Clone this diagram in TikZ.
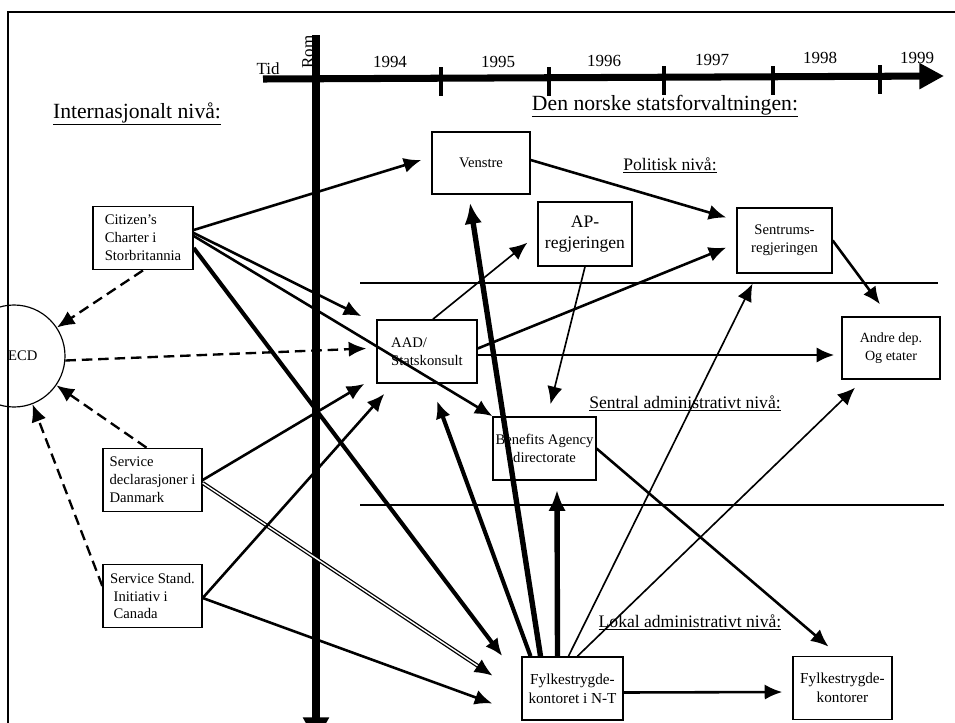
\documentclass[tikz,border=0pt]{standalone}
\usepackage{fontspec}
\setmainfont{Liberation Serif}
\usetikzlibrary{shapes.geometric, arrows.meta, calc}
\tikzstyle{box} = [rectangle, draw, line width=1.2pt, minimum width=3cm, minimum height=1.9cm, inner sep=2pt, align=center, font=\fontsize{12.5}{15.3}\selectfont]
\tikzstyle{leftbox} = [box, align=left]
\tikzstyle{heading} = [font=\fontsize{18.5}{22}\selectfont]
\tikzstyle{level} = [font=\fontsize{15}{18}\selectfont]
\tikzstyle{year} = [font=\fontsize{14.5}{17}\selectfont]
\tikzstyle{axis} = [line width=6pt, -{Triangle[length=21pt,width=21pt]}]
\tikzstyle{tick} = [line width=2.8pt]
\tikzstyle{sep} = [line width=2pt]
\tikzstyle{arrow} = [line width=2.2pt, -{Latex[length=15pt,width=13pt]}]
\tikzstyle{thinarrow} = [arrow, line width=1.4pt]
\tikzstyle{thickarrow} = [arrow, line width=3.5pt]
\tikzstyle{heavyarrow} = [line width=4.6pt, -{Latex[length=18pt,width=15pt]}]
\tikzstyle{dasharrow} = [arrow, line width=2pt, dash pattern=on 9pt off 5pt]
\begin{document}
\begin{tikzpicture}[x=0.03cm, y=-0.03cm]
            \useasboundingbox (0,0) rectangle (955,722);
            \draw [line width=2.5pt] (8,740) -- (8,12) -- (965,12);
            % time and space axes
            \draw [axis] (263,79) -- (944,76);
            \draw [axis] (316,35) -- (316,742);
            \draw [tick] (441,67) -- (441,96);
            \draw [tick] (549,67) -- (549,96);
            \draw [tick] (664,66) -- (664,95);
            \draw [tick] (773,66) -- (773,95);
            \draw [tick] (880,65) -- (880,94);
            \node [year] at (268,69) (tid) {Tid};
            \node [year, rotate=90] at (308,52) (rom) {Rom};
            \node [year] at (390,62) (y1994) {1994};
            \node [year] at (498,62) (y1995) {1995};
            \node [year] at (604,61) (y1996) {1996};
            \node [year] at (712,60) (y1997) {1997};
            \node [year] at (820,58) (y1998) {1998};
            \node [year] at (917,58) (y1999) {1999};
            % levels
            \draw [sep] (360,283) -- (938,283);
            \draw [sep] (360,505) -- (944,505);
            \node [heading] at (137,114) (intniva) {\underline{Internasjonalt nivå:}};
            \node [heading] at (665,106) (norsk) {\underline{Den norske statsforvaltningen:}};
            \node [level] at (670,165) (politisk) {\underline{Politisk nivå:}};
            \node [level] at (685,403) (sentral) {\underline{Sentral administrativt nivå:}};
            \node [level] at (690,622) (lokal) {\underline{Lokal administrativt nivå:}};
            % boxes
            \node [box, minimum width=2.94cm, minimum height=1.86cm] at (481,163) (venstre) {Venstre};
            \node [box, minimum width=2.82cm, minimum height=1.92cm, font=\fontsize{15}{18}\selectfont] at (585,234) (apreg) {AP-\\regjeringen};
            \node [box, minimum width=2.85cm, minimum height=1.95cm] at (784.5,240.5) (sentrum) {Sentrums-\\regjeringen};
            \node [box, minimum width=2.94cm, minimum height=1.86cm, font=\fontsize{12}{15}\selectfont] at (891,348) (andre) {Andre dep.\\Og etater};
            \node [leftbox] at (427,351.5) (aad) {AAD/\\Statskonsult};
            \node [box, minimum width=3.03cm] at (544.5,448.5) (benefits) {Benefits Agency\\directorate};
            \node [box, minimum width=3.03cm, font=\fontsize{13}{16}\selectfont] at (572.5,688.5) (fylke) {Fylkestrygde-\\kontoret i N-T};
            \node [box, minimum width=2.97cm, font=\fontsize{13}{16}\selectfont] at (842.5,688) (kontorer) {Fylkestrygde-\\kontorer};
            \node [leftbox] at (143,238) (citizen) {Citizen's\\Charter i\\Storbritannia};
            \node [leftbox, minimum width=2.97cm] at (152.5,480) (danmark) {Service\\declarasjoner i\\Danmark};
            \node [leftbox, minimum width=2.97cm] at (152.5,596) (canada) {Service Stand.\\\hspace{3pt}Initiativ i\\\hspace{3pt}Canada};
            \node [circle, draw, line width=1pt, minimum size=3.06cm, inner sep=0pt, font=\fontsize{12.5}{15}\selectfont] at (14,356) (ecd) {\hspace*{15pt}ECD};
            % influences
            \draw [arrow] ($(citizen.east)+(0,-8)$) -- ($(venstre.west)+(-10,-3)$);
            \draw [arrow] ($(citizen.east)+(0,-5)$) -- ($(aad.north west)+(-15,-3)$);
            \draw [arrow] ($(citizen.east)+(0,-2)$) -- (benefits.north west);
            \draw [thickarrow] ($(citizen.east)+(0,10)$) -- ($(fylke.north west)+(-19,0)$);
            \draw [dasharrow] (citizen.south) -- (ecd);
            \draw [dasharrow] (ecd.-5) -- ($(aad.west)+(-10,-3)$);
            \draw [dasharrow] ($(danmark.north)+(-6,0)$) -- (ecd);
            \draw [dasharrow] ($(canada.west)+(0,-10)$) -- (ecd);
            \draw [arrow] (danmark.east) -- ($(aad.south west)+(-12,0)$);
            \draw [arrow, double, double distance=1.2pt, line width=1.1pt] ($(danmark.east)+(0,3)$) -- ($(fylke.west)+(-29,-13)$);
            \draw [arrow] ($(canada.east)+(0,2)$) -- ($(aad.south west)+(8,10)$);
            \draw [arrow] ($(canada.east)+(0,2)$) -- ($(fylke.west)+(-29,15)$);
            \draw [heavyarrow] ($(fylke.north)+(-32,0)$) -- ($(venstre.south)+(-11,8)$);
            \draw [thickarrow] ($(fylke.north)+(-42,0)$) -- ($(aad.south)+(10,17)$);
            \draw [heavyarrow] ($(fylke.north)+(-15,0)$) -- ($(benefits.south)+(12.5,9)$);
            \draw [thinarrow] ($(fylke.north)+(-4,0)$) -- ($(sentrum.south)+(-32,10)$);
            \draw [thinarrow] ($(fylke.north)+(5,0)$) -- ($(andre.south)+(-36,8)$);
            \draw [arrow] ($(fylke.east)+(0,4)$) -- ($(kontorer.west)+(-10,4)$);
            \draw [thinarrow] ($(aad.north)+(6,0)$) -- ($(apreg.south west)+(-10,-24)$);
            \draw [arrow] ($(aad.east)+(0,-3)$) -- ($(sentrum.west)+(-10,7)$);
            \draw [arrow] ($(aad.east)+(0,3.5)$) -- ($(andre.west)+(-7,7)$);
            \draw [arrow] ($(venstre.east)+(0,-3)$) -- ($(sentrum.west)+(-10,-23)$);
            \draw [arrow] (sentrum.east) -- ($(andre.north)+(-11,-12)$);
            \draw [thinarrow] (apreg.south) -- ($(benefits.north)+(6,-12)$);
            \draw [arrow] (benefits.east) -- ($(kontorer.north)+(-14,-9)$);
\end{tikzpicture}
\end{document}
